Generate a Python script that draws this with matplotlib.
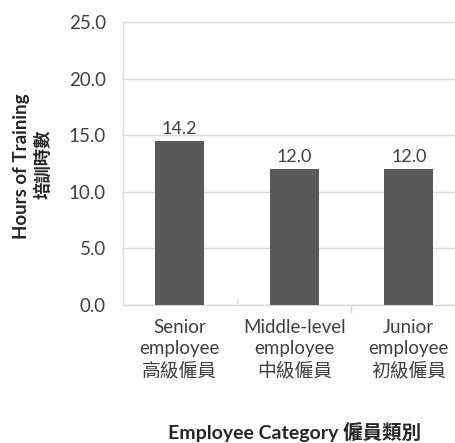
import matplotlib
matplotlib.use('Agg')
import matplotlib.pyplot as plt
import matplotlib.lines as mlines
import numpy as np

plt.rcParams['font.family'] = ['Lato', 'Noto Sans CJK TC', 'DejaVu Sans']

# data
categories = ['Senior\nemployee\n高級僱員',
              'Middle-level\nemployee\n中級僱員',
              'Junior\nemployee\n初級僱員']
bar_heights = [14.5, 12.0, 12.0]
value_labels = ['14.2', '12.0', '12.0']
y_ticks = [0, 5, 10, 15, 20, 25]

bar_color = '#58595b'
grid_color = '#d9d9d9'
text_color = '#404040'

fig = plt.figure(figsize=(4.55, 4.43), dpi=100)
W, H = 455.0, 443.0
# axes runs past the right edge, like the cropped original
ax = fig.add_axes([122.5 / W, (H - 305) / H, 343.5 / W, (305 - 22.3) / H])

x = np.arange(len(categories))
bars = ax.bar(x, bar_heights, width=0.43, color=bar_color, zorder=3)

for rect, lab in zip(bars, value_labels):
    ax.annotate(lab, (rect.get_x() + rect.get_width() / 2, rect.get_height()),
                xytext=(0, 3), textcoords='offset points',
                ha='center', va='bottom', fontsize=13, color=text_color)

ax.set_xlim(-0.5, 2.5)
ax.set_ylim(0, 25)
ax.set_yticks(y_ticks)
ax.set_yticklabels(['{:.1f}'.format(v) for v in y_ticks])
ax.yaxis.grid(True, color=grid_color, linewidth=1, zorder=0)
ax.set_axisbelow(True)

ax.set_xticks(x)
ax.set_xticklabels(categories, linespacing=1.3)
ax.set_xticks([0.5, 1.5], minor=True)

ax.tick_params(axis='y', length=0, pad=12, labelsize=13.5, labelcolor=text_color)
ax.tick_params(axis='x', which='major', length=0, pad=10, labelsize=13.5,
               labelcolor=text_color)
ax.tick_params(axis='x', which='minor', direction='out', length=6,
               color=grid_color, width=1)
# first divider points up into the plot, as in the original
ax.xaxis.get_minor_ticks()[0].tick1line.set_marker(mlines.TICKUP)

for side in ['top', 'right']:
    ax.spines[side].set_visible(False)
for side in ['left', 'bottom']:
    ax.spines[side].set_color(grid_color)
    ax.spines[side].set_linewidth(1)

fig.text(22 / W, 1 - 166 / H, 'Hours of Training', rotation=90,
         ha='center', va='center', fontsize=13.5, fontweight='bold', color='#262626')
fig.text(43 / W, 1 - 164 / H, '培訓時數', rotation=90,
         ha='center', va='center', fontsize=12.5, fontweight='bold', color='#262626')
fig.text(294.5 / W, 1 - 432 / H, 'Employee Category 僱員類別',
         ha='center', va='center', fontsize=14, fontweight='bold', color='#262626')

fig.savefig('out.png', dpi=100)
